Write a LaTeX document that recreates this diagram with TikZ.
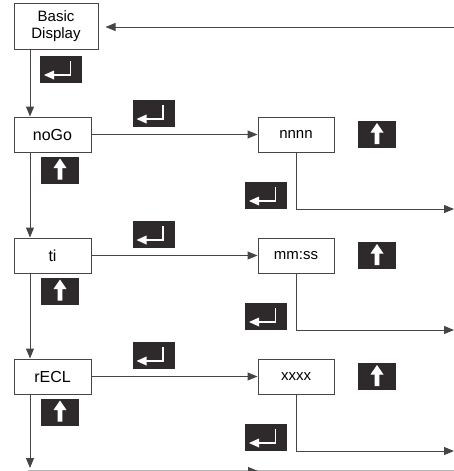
\documentclass[tikz,border=0pt]{standalone}
\usepackage{fontspec}
\setmainfont{Liberation Sans}
\usetikzlibrary{arrows.meta}
\definecolor{keyfill}{HTML}{2E2A2B}
\definecolor{linecol}{HTML}{454545}
\tikzset{
  box/.style={draw=linecol, line width=1pt, fill=white, minimum width=77, minimum height=35,
    inner sep=0pt, font=\fontsize{15}{17}\selectfont},
  seg/.style={box, font=\fontsize{16}{18}\selectfont},
  key/.style={fill=keyfill, minimum height=27, inner sep=0pt},
  arr/.style={draw=linecol, line width=1pt, -{Triangle[length=10pt,width=8pt]}}
}
\newcommand\enterkey[2]{%
  \node[key, minimum width=42] (#1) at (#2) {};
  \draw[white, line width=1.3pt] (#1.center) +(9.5,-8.5) -- +(9.5,5.5) -- +(-8,5.5);
  \fill[white] (#1.center) +(-17,5.5) -- +(-7,1) -- +(-7,10) -- cycle;
}
\newcommand\upkey[2]{%
  \node[key, minimum width=38] (#1) at (#2) {};
  \fill[white] (#1.center) +(0,-11.5) -- +(6.5,-2) -- +(2.3,-2) -- +(2.3,9.5)
    -- +(-2.3,9.5) -- +(-2.3,-2) -- +(-6.5,-2) -- cycle;
}
\begin{document}
\begin{tikzpicture}[x=1pt,y=-1pt]
\useasboundingbox (0,0) rectangle (454,471);
\node[box, minimum width=84, minimum height=46, align=center] (basic) at (56,26) {Basic\\Display};
\enterkey{enter0}{61,69.5}
\coordinate (top) at (454,27);
\draw[arr] (top) -- ([xshift=7]basic.east |- top);
\foreach [count=\i, evaluate=\i as \y using 134.5+121*(\i-1)] \disp/\val in {noGo/nnnn, ti/mm:ss, rECL/xxxx} {
   \node[seg] (menu\i) at (52.5,\y) {\disp};
   \node[box, minimum width=76] (value\i) at (296,\y) {\val};
   \enterkey{enterA\i}{153.5,\y-21}
   \upkey{upA\i}{377,\y}
   \upkey{upB\i}{60,\y+35.5}
   \enterkey{enterB\i}{266,\y+61}
   \coordinate (out\i) at (454,\y+74.5);
   \draw[arr] (menu\i) -- (value\i);
   \draw[arr] (value\i.south) |- (out\i);
}
\coordinate (spine) at (30,0);
\coordinate (bottom) at (30,468);
\draw[arr] (basic.south -| spine) -- (menu1.north -| spine);
\draw[arr] (menu1.south -| spine) -- (menu2.north -| spine);
\draw[arr] (menu2.south -| spine) -- (menu3.north -| spine);
\draw[arr] (menu3.south -| spine) -- (bottom);
\coordinate (low) at (28,471);
\coordinate (lowtip) at (258,471);
\coordinate (lowend) at (454,471);
\draw[draw=linecol!40, line width=1.2pt] (low) -- (lowend);
\draw[arr] (low) -- (lowtip);
\end{tikzpicture}
\end{document}
